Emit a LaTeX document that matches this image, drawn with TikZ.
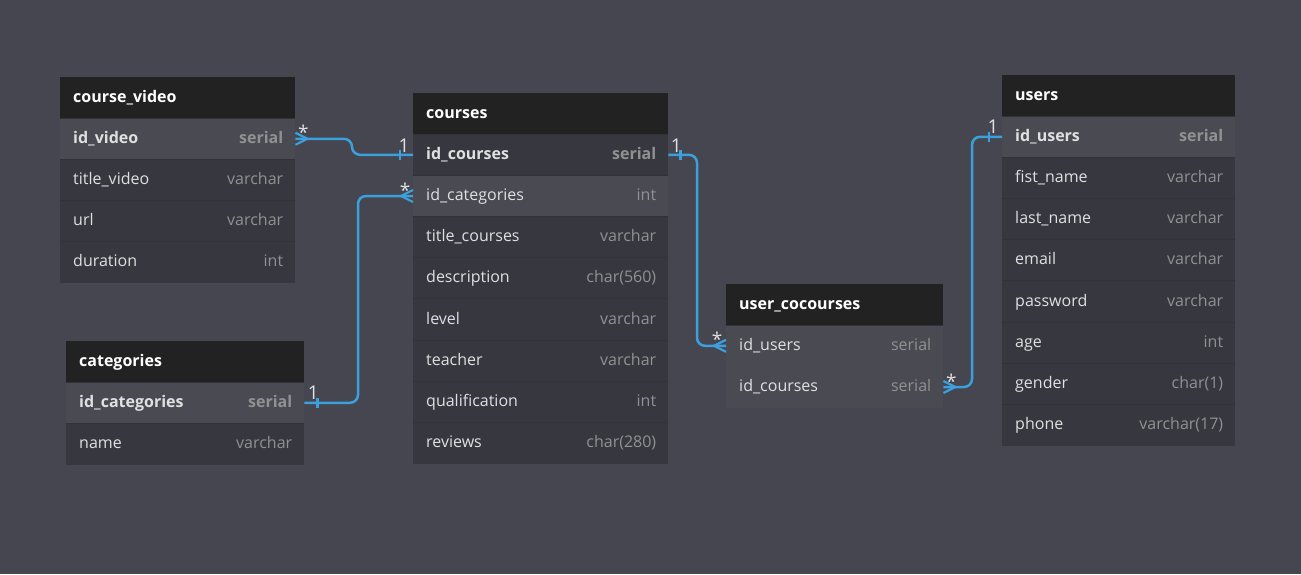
\documentclass[tikz,border=0pt]{standalone}
\usepackage{fontspec}
\setmainfont{Open Sans}
\definecolor{bgc}{RGB}{69,70,80}
\definecolor{hdc}{RGB}{34,34,34}
\definecolor{dkrow}{RGB}{55,55,63}
\definecolor{ltrow}{RGB}{74,74,83}
\definecolor{sepc}{RGB}{50,50,57}
\definecolor{fldc}{RGB}{224,224,224}
\definecolor{typc}{RGB}{145,145,145}
\definecolor{relc}{RGB}{59,160,219}
\tikzset{
  hdbox/.style={rectangle,fill=hdc,inner sep=0pt,minimum height=41pt},
  hdtxt/.style={inner sep=0pt,text=white,font=\fontsize{16}{18}\selectfont\bfseries,text height=11.5pt,text depth=2.5pt},
  rowbox/.style={rectangle,inner sep=0pt,minimum height=41.2pt},
  dk/.style={fill=dkrow},
  lt/.style={fill=ltrow},
  fieldtxt/.style={inner sep=0pt,text=fldc,font=\fontsize{16}{18}\selectfont,text height=11.5pt,text depth=2.5pt},
  typetxt/.style={inner sep=0pt,text=typc,font=\fontsize{16}{18}\selectfont,text height=11.5pt,text depth=2.5pt},
  bf/.style={font=\fontsize{16}{18}\selectfont\bfseries},
  nb/.style={},
  sepline/.style={draw=sepc,line width=0.8pt},
  nosep/.style={draw=none},
  rel/.style={draw=relc,line width=2.5pt,rounded corners=8pt},
  relmark/.style={draw=relc,line width=2.2pt},
  card/.style={inner sep=0pt,text=fldc,font=\fontsize{19}{22}\selectfont,anchor=base}
}
\newcommand\thead[5]{%
  \node[hdbox,minimum width=#4pt,anchor=north west] (#1) at (#2,#3) {};
  \node[hdtxt,anchor=west] (#1-f) at ([xshift=13pt]#1.west) {#5};}
\newcommand\trow[8]{%
  \node[rowbox,#5,minimum width=#4pt,anchor=north west] (#1) at (#2,#3) {};
  \draw[sepline,#5] (#1.north west) -- (#1.north east);
  \node[fieldtxt,#6,anchor=west] (#1-f) at ([xshift=13pt]#1.west) {#7};
  \node[typetxt,#6,anchor=east] (#1-t) at ([xshift=-12pt]#1.east) {#8};}
\begin{document}
\begin{tikzpicture}[x=1pt,y=-1pt]
\fill[bgc] (0,0) rectangle (1301,574);
\useasboundingbox (0,0) rectangle (1301,574);

% course_video
\thead{cvh}{60}{77}{235}{course\_video}
\trow{cv1}{60}{118}{235}{lt}{bf}{id\_video}{serial}
\trow{cv2}{60}{159.2}{235}{dk}{nb}{title\_video}{varchar}
\trow{cv3}{60}{200.4}{235}{dk}{nb}{url}{varchar}
\trow{cv4}{60}{241.6}{235}{dk}{nb}{duration}{int}

% courses
\thead{coh}{413}{93}{255}{courses}
\trow{co1}{413}{134}{255}{dk}{bf}{id\_courses}{serial}
\trow{co2}{413}{175.2}{255}{lt}{nb}{id\_categories}{int}
\trow{co3}{413}{216.4}{255}{dk}{nb}{title\_courses}{varchar}
\trow{co4}{413}{257.6}{255}{dk}{nb}{description}{char(560)}
\trow{co5}{413}{298.8}{255}{dk}{nb}{level}{varchar}
\trow{co6}{413}{340}{255}{dk}{nb}{teacher}{varchar}
\trow{co7}{413}{381.2}{255}{dk}{nb}{qualification}{int}
\trow{co8}{413}{422.4}{255}{dk}{nb}{reviews}{char(280)}

% categories
\thead{cth}{66}{341}{238}{categories}
\trow{ct1}{66}{382}{238}{lt}{bf}{id\_categories}{serial}
\trow{ct2}{66}{423.2}{238}{dk}{nb}{name}{varchar}

% user_cocourses
\thead{uch}{726}{284}{217}{user\_cocourses}
\trow{uc1}{726}{325}{217}{lt}{nb}{id\_users}{serial}
\trow{uc2}{726}{366.2}{217}{lt,nosep}{nb}{id\_courses}{serial}

% users
\thead{ush}{1002}{75}{233}{users}
\trow{us1}{1002}{116}{233}{lt}{bf}{id\_users}{serial}
\trow{us2}{1002}{157.2}{233}{dk}{nb}{fist\_name}{varchar}
\trow{us3}{1002}{198.4}{233}{dk}{nb}{last\_name}{varchar}
\trow{us4}{1002}{239.6}{233}{dk}{nb}{email}{varchar}
\trow{us5}{1002}{280.8}{233}{dk}{nb}{password}{varchar}
\trow{us6}{1002}{322}{233}{dk}{nb}{age}{int}
\trow{us7}{1002}{363.2}{233}{dk}{nb}{gender}{char(1)}
\trow{us8}{1002}{404.4}{233}{dk}{nb}{phone}{varchar(17)}

% routing columns
\coordinate (v1) at (352,0);
\coordinate (v2) at (358,0);
\coordinate (v3) at (697,0);
\coordinate (v4) at (972,0);

% connector 1: course_video.id_video * -- 1 courses.id_courses
\draw[rel] (cv1.east) -- (cv1.east -| v1) |- (co1.west);
\draw[relmark] ([yshift=6pt]cv1.east) -- ([xshift=12pt]cv1.east) -- ([yshift=-6pt]cv1.east);
\draw[relmark] ([xshift=-13pt,yshift=5pt]co1.west) -- ([xshift=-13pt,yshift=-5pt]co1.west);
\node[card] (c1a) at ([xshift=8pt,yshift=-1pt]cv1.east) {*};
\node[card] (c1b) at ([xshift=-9pt,yshift=2.5pt]co1.west) {1};

% connector 2: categories.id_categories 1 -- * courses.id_categories
\draw[rel] (ct1.east) -- (ct1.east -| v2) |- (co2.west);
\draw[relmark] ([xshift=13pt,yshift=5pt]ct1.east) -- ([xshift=13pt,yshift=-5pt]ct1.east);
\draw[relmark] ([yshift=6pt]co2.west) -- ([xshift=-12pt]co2.west) -- ([yshift=-6pt]co2.west);
\node[card] (c2a) at ([xshift=9pt,yshift=3pt]ct1.east) {1};
\node[card] (c2b) at ([xshift=-8pt,yshift=-1pt]co2.west) {*};

% connector 3: courses.id_courses 1 -- * user_cocourses.id_users
\draw[rel] (co1.east) -- (co1.east -| v3) |- (uc1.west);
\draw[relmark] ([xshift=12pt,yshift=5pt]co1.east) -- ([xshift=12pt,yshift=-5pt]co1.east);
\draw[relmark] ([yshift=6pt]uc1.west) -- ([xshift=-12pt]uc1.west) -- ([yshift=-6pt]uc1.west);
\node[card] (c3a) at ([xshift=8pt,yshift=2.5pt]co1.east) {1};
\node[card] (c3b) at ([xshift=-9pt,yshift=-1pt]uc1.west) {*};

% connector 4: users.id_users 1 -- * user_cocourses.id_courses
\draw[rel] (us1.west) -- (us1.west -| v4) |- (uc2.east);
\draw[relmark] ([xshift=-13pt,yshift=5pt]us1.west) -- ([xshift=-13pt,yshift=-5pt]us1.west);
\draw[relmark] ([yshift=6pt]uc2.east) -- ([xshift=12pt]uc2.east) -- ([yshift=-6pt]uc2.east);
\node[card] (c4a) at ([xshift=-9pt,yshift=3.5pt]us1.west) {1};
\node[card] (c4b) at ([xshift=8pt,yshift=-1pt]uc2.east) {*};
\end{tikzpicture}
\end{document}
